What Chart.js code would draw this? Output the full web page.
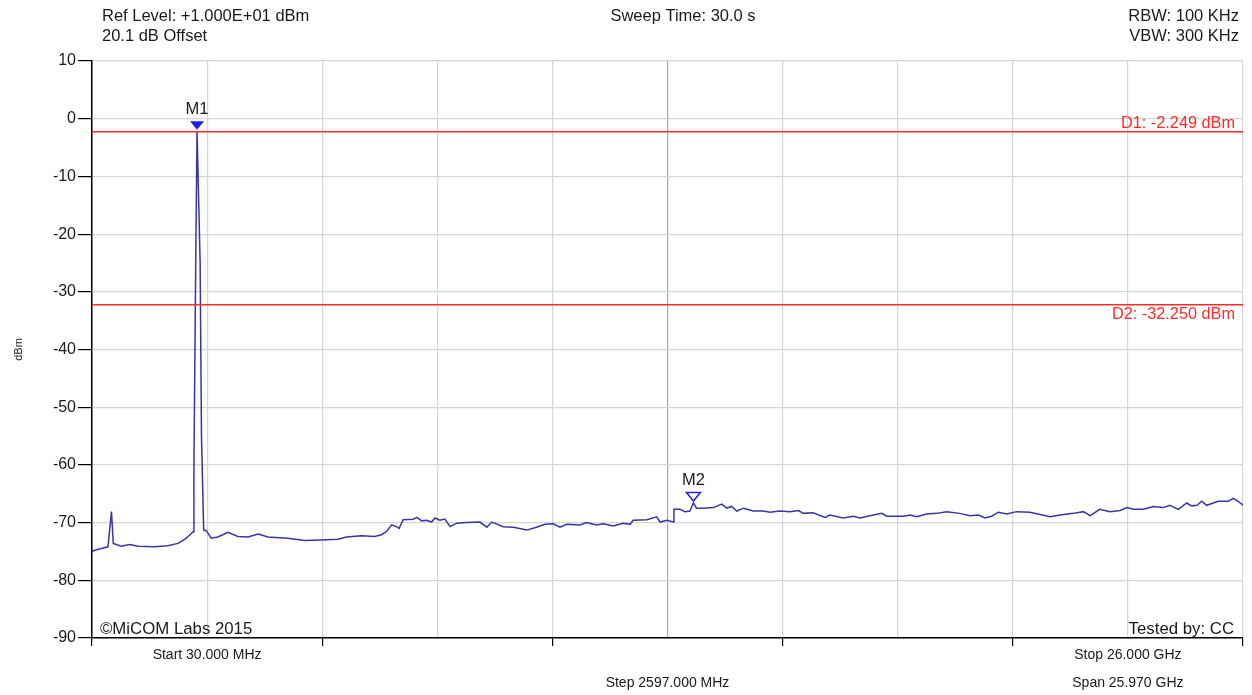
<!DOCTYPE html>
<html>
<head>
<meta charset="utf-8">
<title>Spurious emissions 30 MHz - 26 GHz</title>
<script src="https://cdn.jsdelivr.net/npm/chart.js@4.4.1/dist/chart.umd.min.js"></script>
<style>
    html, body { margin: 0; padding: 0; background: #fff; }
    canvas { display: block; }
</style>
</head>
<body>
<canvas id="specChart" width="1252" height="695"></canvas>
<script>
// trace (frequency in GHz, level in dBm)
const freqGHz = [
    0.03, 0.05, 0.24, 0.39, 0.47, 0.51, 0.69, 0.88, 1.07, 1.44,
    1.74, 1.97, 2.12, 2.23, 2.31, 2.33, 2.37, 2.40, 2.47, 2.50,
    2.55, 2.61, 2.72, 2.87, 3.10, 3.32, 3.55, 3.78, 4.00, 4.45,
    4.83, 5.20, 5.58, 5.77, 6.11, 6.41, 6.56, 6.68, 6.79, 6.90,
    6.96, 7.05, 7.28, 7.36, 7.47, 7.58, 7.69, 7.77, 7.88, 7.99,
    8.11, 8.26, 8.48, 8.78, 8.94, 9.05, 9.31, 9.54, 9.84, 10.06,
    10.25, 10.44, 10.59, 10.74, 11.04, 11.19, 11.42, 11.57, 11.79, 12.02,
    12.17, 12.24, 12.55, 12.77, 12.85, 13.00, 13.15, 13.16, 13.21, 13.30,
    13.41, 13.52, 13.60, 13.67, 13.82, 14.05, 14.24, 14.35, 14.46, 14.58,
    14.73, 14.95, 15.18, 15.33, 15.55, 15.78, 15.97, 16.08, 16.30, 16.57,
    16.68, 16.98, 17.21, 17.36, 17.58, 17.85, 17.96, 18.34, 18.49, 18.64,
    18.86, 19.09, 19.31, 19.61, 19.84, 20.03, 20.18, 20.33, 20.48, 20.67,
    20.89, 21.19, 21.42, 21.65, 21.87, 22.17, 22.40, 22.55, 22.77, 23.00,
    23.23, 23.38, 23.53, 23.75, 23.98, 24.20, 24.35, 24.54, 24.73, 24.84,
    24.96, 25.07, 25.18, 25.33, 25.44, 25.56, 25.67, 25.78, 25.89, 26.00
];
const levelDbm = [
    -75.0, -74.9, -74.5, -74.2, -68.1, -73.6, -74.1, -73.8, -74.1, -74.2,
    -74.0, -73.6, -72.9, -72.2, -71.6, -60.0, -25.0, -2.25, -25.0, -55.0,
    -71.3, -71.4, -72.7, -72.5, -71.7, -72.4, -72.5, -72.0, -72.5, -72.7,
    -73.1, -73.0, -72.9, -72.5, -72.3, -72.4, -72.1, -71.5, -70.4, -70.7,
    -71.0, -69.5, -69.4, -69.1, -69.7, -69.6, -69.9, -69.2, -69.6, -69.4,
    -70.7, -70.1, -70.0, -69.9, -70.8, -69.9, -70.7, -70.8, -71.3, -70.8,
    -70.3, -70.2, -70.8, -70.3, -70.4, -70.0, -70.4, -70.2, -70.6, -70.1,
    -70.3, -69.6, -69.5, -69.0, -69.9, -69.6, -69.9, -67.7, -67.7, -67.7,
    -68.1, -68.0, -66.6, -67.5, -67.5, -67.4, -66.8, -67.5, -67.2, -68.0,
    -67.5, -68.0, -68.0, -68.2, -68.0, -68.1, -67.9, -68.4, -68.3, -69.1,
    -68.7, -69.2, -68.9, -69.2, -68.8, -68.4, -68.9, -68.9, -68.7, -69.0,
    -68.5, -68.4, -68.1, -68.4, -68.8, -68.7, -69.2, -68.9, -68.2, -68.5,
    -68.1, -68.2, -68.6, -69.0, -68.7, -68.4, -68.1, -68.8, -67.7, -68.1,
    -67.9, -67.4, -67.7, -67.7, -67.2, -67.4, -67.0, -67.7, -66.6, -67.1,
    -67.0, -66.3, -67.0, -66.6, -66.3, -66.3, -66.3, -65.8, -66.3, -67.0
];

// display lines
const displayLineNames = ["D1", "D2"];
const displayLineLevels = [-2.249, -32.250];

// markers
const markerNames = ["M1", "M2"];
const markerFreqs = [2.40, 13.60];
const markerLevels = [-2.25, -66.6];

// axes
const xMin = 0.03;
const xMax = 26.0;
const xTickValues = [0.03, 2.627, 5.224, 7.821, 10.418, 13.015, 15.612, 18.209, 20.806, 23.403, 26.0];
const xTickLabels = ["", "Start 30.000 MHz", "", "", "", ["", "Step 2597.000 MHz"], "", "", "", ["Stop 26.000 GHz", "Span 25.970 GHz"], ""];
const yMin = -90;
const yMax = 10;

const FONT = "'Liberation Sans', Arial, sans-serif";
const TEXT = "#1a1a1a";
const RED = "#ff2b2b";
const BLUE = "#2020e0";

const trace = freqGHz.map((f, i) => ({ x: f, y: levelDbm[i] }));

// header / footer annotations and marker glyphs
const annotations = {
    id: "annotations",
    afterDatasetsDraw(chart) {
        const { ctx, chartArea, scales } = chart;
        const xs = scales.x, ys = scales.y;
        ctx.save();

        // display line labels
        ctx.font = "16.3px " + FONT;
        ctx.fillStyle = RED;
        ctx.textAlign = "right";
        displayLineNames.forEach((name, i) => {
            const py = ys.getPixelForValue(displayLineLevels[i]);
            const txt = `${name}: ${displayLineLevels[i].toFixed(3)} dBm`;
            if (i === 0) {
                ctx.textBaseline = "alphabetic";
                ctx.fillText(txt, chartArea.right - 8, py - 4);
            } else {
                ctx.textBaseline = "top";
                ctx.fillText(txt, chartArea.right - 8, py + 2);
            }
        });

        // markers
        markerNames.forEach((name, i) => {
            const px = xs.getPixelForValue(markerFreqs[i]);
            const py = ys.getPixelForValue(markerLevels[i]) - 2;
            ctx.beginPath();
            ctx.moveTo(px, py);
            ctx.lineTo(px - 7, py - 8.5);
            ctx.lineTo(px + 7, py - 8.5);
            ctx.closePath();
            if (i === 0) {
                ctx.fillStyle = BLUE;
                ctx.fill();
            } else {
                ctx.fillStyle = "#fff";
                ctx.fill();
                ctx.lineWidth = 1.5;
                ctx.strokeStyle = BLUE;
                ctx.stroke();
            }
            ctx.fillStyle = TEXT;
            ctx.textAlign = "center";
            ctx.textBaseline = "alphabetic";
            ctx.font = "16.5px " + FONT;
            ctx.fillText(name, px, py - 16);
        });

        // header
        ctx.fillStyle = TEXT;
        ctx.font = "16.5px " + FONT;
        ctx.textBaseline = "alphabetic";
        ctx.textAlign = "left";
        ctx.fillText("Ref Level: +1.000E+01 dBm", 102, 21);
        ctx.fillText("20.1 dB Offset", 102, 41);
        ctx.textAlign = "center";
        ctx.fillText("Sweep Time: 30.0 s", 683, 21);
        ctx.textAlign = "right";
        ctx.fillText("RBW: 100 KHz", 1239, 21);
        ctx.fillText("VBW: 300 KHz", 1239, 41);

        // footer inside plot
        ctx.font = "16.8px " + FONT;
        ctx.textAlign = "left";
        ctx.fillText("\u00A9MiCOM Labs 2015", chartArea.left + 8, chartArea.bottom - 4);
        ctx.textAlign = "right";
        ctx.fillText("Tested by: CC", chartArea.right - 9, chartArea.bottom - 4);

        ctx.restore();
    }
};

const ctx = document.getElementById("specChart").getContext("2d");

const datasets = displayLineNames.map((name, i) => ({
    label: name,
    data: [{ x: xMin, y: displayLineLevels[i] }, { x: xMax, y: displayLineLevels[i] }],
    borderColor: RED,
    borderWidth: 1.5,
    pointRadius: 0
}));
datasets.push({
    label: "Trace",
    data: trace,
    borderColor: "#3836a0",
    borderWidth: 1.5,
    pointRadius: 0,
    tension: 0
});

const chart = new Chart(ctx, {
    type: "line",
    data: { datasets },
    options: {
        responsive: false,
        animation: false,
        layout: { padding: { top: 61, right: 9, left: 0, bottom: 0 } },
        plugins: {
            legend: { display: false },
            tooltip: { enabled: false }
        },
        scales: {
            x: {
                type: "linear",
                min: xMin,
                max: xMax,
                afterFit: s => { s.height = 57; },
                afterBuildTicks: s => { s.ticks = xTickValues.map(v => ({ value: v })); },
                grid: {
                    color: c => c.index === 5 ? "#a8a8a8" : "#d6d6d6",
                    tickColor: c => c.index % 2 === 0 ? "#000" : "rgba(0,0,0,0)",
                    tickLength: 8,
                    lineWidth: 1.2
                },
                border: { color: "#000", width: 1.5 },
                ticks: {
                    autoSkip: false,
                    maxRotation: 0,
                    padding: -5,
                    color: TEXT,
                    font: { family: FONT, size: 14, lineHeight: "28px" },
                    callback: (v, i) => xTickLabels[i]
                }
            },
            y: {
                min: yMin,
                max: yMax,
                afterFit: s => { s.width = 92; },
                grid: {
                    color: "#d6d6d6",
                    tickColor: "#000",
                    tickLength: 14,
                    lineWidth: 1.2
                },
                border: { color: "#000", width: 1.5 },
                ticks: {
                    stepSize: 10,
                    padding: 2,
                    color: TEXT,
                    font: { family: FONT, size: 16 }
                },
                title: {
                    display: true,
                    text: "dBm",
                    color: TEXT,
                    font: { family: FONT, size: 11 },
                    padding: { top: 12, bottom: 0 }
                }
            }
        }
    },
    plugins: [annotations]
});
</script>
</body>
</html>
